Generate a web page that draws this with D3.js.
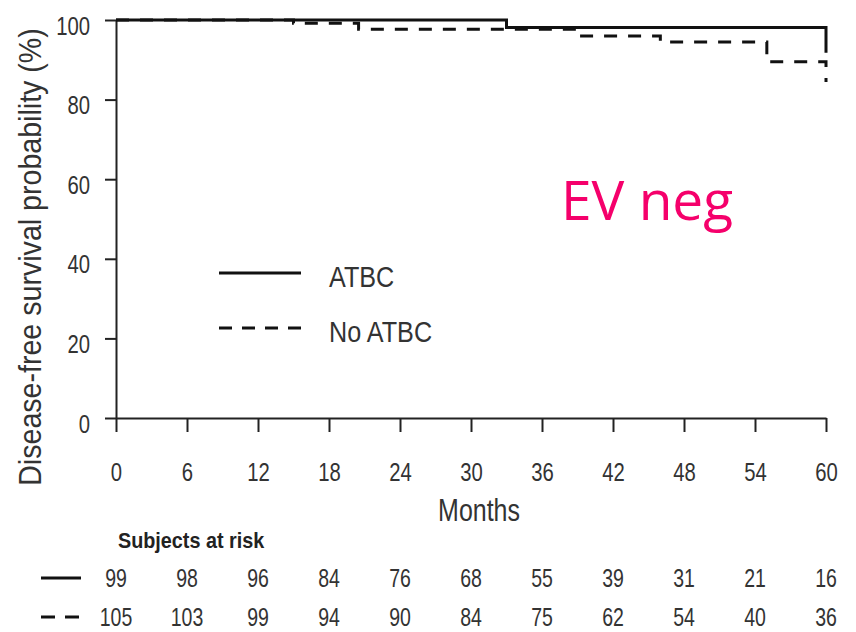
<!DOCTYPE html>
<html>
<head>
<meta charset="utf-8">
<script src="https://cdn.jsdelivr.net/npm/d3@7"></script>
<style>
  html, body { margin: 0; padding: 0; background: #fff; }
  svg { display: block; }
</style>
</head>
<body>
<svg id="chart" width="856" height="632"></svg>
<script>
// Kaplan–Meier step data (months, disease-free survival %)
const atbcMonths = [0, 33, 60, 60];
const atbcSurvival = [100, 98.1, 98.1, 91.8];
const noAtbcMonths = [0, 15, 20.5, 39, 46, 55, 60, 60];
const noAtbcSurvival = [100, 99.2, 97.7, 96.0, 94.5, 89.5, 89.5, 84.4];

// Axis ticks
const monthTicks = [0, 6, 12, 18, 24, 30, 36, 42, 48, 54, 60];
const survivalTicks = [0, 20, 40, 60, 80, 100];

// Subjects at risk at each month tick
const riskATBC = [99, 98, 96, 84, 76, 68, 55, 39, 31, 21, 16];
const riskNoATBC = [105, 103, 99, 94, 90, 84, 75, 62, 54, 40, 36];

const seriesNames = ["ATBC", "No ATBC"];

const svg = d3.select("#chart");
const x = d3.scaleLinear().domain([0, 60]).range([116, 826]);
const y = d3.scaleLinear().domain([0, 100]).range([418, 20]);

const sans = '"Liberation Sans", Arial, Helvetica, sans-serif';
const squeeze = 0.78;          // condensed look of the typeface
const ink = "#333";

// Condensed text helper: place at (tx, ty), squeeze horizontally
function label(parent, tx, ty, str, size, anchor, weight, sx) {
  return parent.append("text")
    .attr("transform", `translate(${tx},${ty}) scale(${sx || squeeze},1)`)
    .attr("text-anchor", anchor || "start")
    .attr("font-family", sans)
    .attr("font-size", size)
    .attr("font-weight", weight || "normal")
    .attr("fill", ink)
    .text(str);
}

// Y axis
const yAxis = svg.append("g")
  .attr("transform", `translate(${x(0)},0)`)
  .call(d3.axisLeft(y).tickValues(survivalTicks).tickSize(11).tickSizeOuter(0));
yAxis.select(".domain").attr("stroke", "#222").attr("stroke-width", 2);
yAxis.selectAll(".tick line").attr("stroke", "#222").attr("stroke-width", 2);
yAxis.selectAll(".tick text")
  .attr("x", null).attr("dy", null).attr("y", null)
  .attr("transform", `translate(-26,14) scale(${squeeze},1)`)
  .attr("text-anchor", "end")
  .attr("font-family", sans).attr("font-size", 26).attr("fill", ink);

// X axis
const xAxis = svg.append("g")
  .attr("transform", `translate(0,${y(0)})`)
  .call(d3.axisBottom(x).tickValues(monthTicks).tickSize(14).tickSizeOuter(0));
xAxis.select(".domain").attr("stroke", "#222").attr("stroke-width", 2);
xAxis.selectAll(".tick line").attr("stroke", "#222").attr("stroke-width", 2);
xAxis.selectAll(".tick text")
  .attr("x", null).attr("dy", null).attr("y", null)
  .attr("transform", `translate(0,63) scale(${squeeze},1)`)
  .attr("text-anchor", "middle")
  .attr("font-family", sans).attr("font-size", 26).attr("fill", ink);

// Axis titles
svg.append("text")
  .attr("transform", `translate(41,257) rotate(-90) scale(1,1.07)`)
  .attr("text-anchor", "middle")
  .attr("font-family", sans)
  .attr("font-size", 28.6)
  .attr("fill", ink)
  .text("Disease-free survival probability (%)");

label(svg, 479, 521, "Months", 32, "middle");

// Survival curves
const step = d3.line().x(d => x(d[0])).y(d => y(d[1])).curve(d3.curveStepAfter);
const atbcPts = atbcMonths.map((m, i) => [m, atbcSurvival[i]]);
const noAtbcPts = noAtbcMonths.map((m, i) => [m, noAtbcSurvival[i]]);

svg.append("path").datum(noAtbcPts)
  .attr("d", step).attr("fill", "none")
  .attr("stroke", "#111").attr("stroke-width", 3)
  .attr("stroke-dasharray", "13,11");

svg.append("path").datum(atbcPts)
  .attr("d", step).attr("fill", "none")
  .attr("stroke", "#111").attr("stroke-width", 3);

// Legend
const legend = svg.append("g");
seriesNames.forEach((name, i) => {
  const ly = 273 + i * 55;
  legend.append("line")
    .attr("x1", 219).attr("x2", 301).attr("y1", ly).attr("y2", ly)
    .attr("stroke", "#111").attr("stroke-width", 3)
    .attr("stroke-dasharray", i === 0 ? null : "13,10");
  label(legend, 329, ly + 14, name, 30, "start", "normal", 0.84);
});

// Panel annotation
svg.append("text")
  .attr("x", 561).attr("y", 220)
  .attr("font-family", '"Open Sans", "Noto Sans", sans-serif')
  .attr("font-size", 55)
  .attr("fill", "#F5006B")
  .text("EV neg");

// Subjects-at-risk table
label(svg, 118, 548, "Subjects at risk", 22, "start", "bold", 0.9).attr("fill", "#222");

[riskATBC, riskNoATBC].forEach((row, r) => {
  const ry = 578 + r * 39;
  svg.append("line")
    .attr("x1", 41).attr("x2", 81).attr("y1", ry).attr("y2", ry)
    .attr("stroke", "#111").attr("stroke-width", 3)
    .attr("stroke-dasharray", r === 0 ? null : "14,10");
  const g = svg.append("g");
  row.forEach((v, i) => label(g, x(monthTicks[i]), ry + 9, v, 25, "middle"));
});
</script>
</body>
</html>
